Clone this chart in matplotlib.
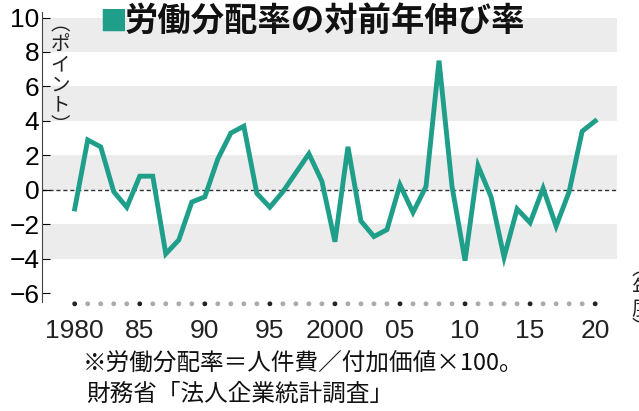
import matplotlib.pyplot as plt

plt.rcParams["font.family"] = "Noto Sans CJK JP"

years = list(range(1980, 2021))
values = [-1.1, 2.9, 2.5, -0.1, -1.0, 0.8, 0.8, -3.7, -2.9, -0.7,
          -0.4, 1.8, 3.3, 3.7, -0.2, -1.0, -0.1, 1.0, 2.1, 0.5,
          -3.0, 2.5, -1.8, -2.7, -2.3, 0.3, -1.3, 0.2, 7.5, 0.2,
          -4.1, 1.4, -0.4, -3.9, -1.1, -1.9, 0.1, -2.1, -0.1, 3.4,
          4.0]
yticks = [10, 8, 6, 4, 2, 0, -2, -4, -6]
xlabels = {1980: "1980", 1985: "85", 1990: "90", 1995: "95", 2000: "2000",
           2005: "05", 2010: "10", 2015: "15", 2020: "20"}
bands = [(8, 10), (4, 6), (0, 2), (-4, -2)]

color = "#1f9e8a"
fig = plt.figure(figsize=(6.39, 4.11), dpi=100)
ax = fig.add_axes([0.066, 0.265, 0.90, 0.705])
ax.set_xlim(1977.5, 2021.7)
ax.set_ylim(-6.5, 10.3)

for lo, hi in bands:
    ax.axhspan(lo, hi, color="#ececec", lw=0, zorder=0)
ax.axhline(0, color="#333333", lw=1, ls=(0, (3, 2)), zorder=1)
ax.plot(years, values, color=color, lw=3.5, solid_joinstyle="miter", zorder=3)

# dotted year row
ax.scatter(years, [-6.6] * len(years),
           c=["#222222" if y % 5 == 0 else "#aaaaaa" for y in years],
           s=6, clip_on=False, zorder=2)

for s in ["top", "right", "bottom"]:
    ax.spines[s].set_visible(False)
ax.spines["left"].set_color("#444444")
ax.set_yticks(yticks)
ax.set_yticklabels([str(t).replace("-", "−") for t in yticks], fontsize=19,
                   fontfamily="Liberation Sans")
ax.tick_params(axis="y", direction="in", length=6, pad=2)
ax.set_xticks([])

for y, lab in xlabels.items():
    ax.text(y, -8.2, lab, ha="center", va="center", fontsize=19,
            fontfamily="Liberation Sans", color="#222222")

ax.text(1978.9, 10.2, "︵\nポ\nイ\nン\nト\n︶", va="top", ha="center",
        fontsize=14, linespacing=0.95, color="#222222")
ax.text(2023.6, -3.9, "︵\n年\n度\n︶", va="top", ha="center",
        fontsize=15, linespacing=0.9, color="#222222", clip_on=False)

fig.text(0.155, 0.945, "■", color=color, fontsize=20, va="center", ha="left")
fig.text(0.195, 0.945, "労働分配率の対前年伸び率", fontsize=24, fontweight="bold",
         va="center", ha="left", color="#111111")
fig.text(0.13, 0.115, "※労働分配率＝人件費／付加価値×100。", fontsize=17,
         va="center", ha="left", color="#111111")
fig.text(0.135, 0.04, "財務省「法人企業統計調査」", fontsize=17,
         va="center", ha="left", color="#111111")

fig.savefig("out.png", dpi=100)
